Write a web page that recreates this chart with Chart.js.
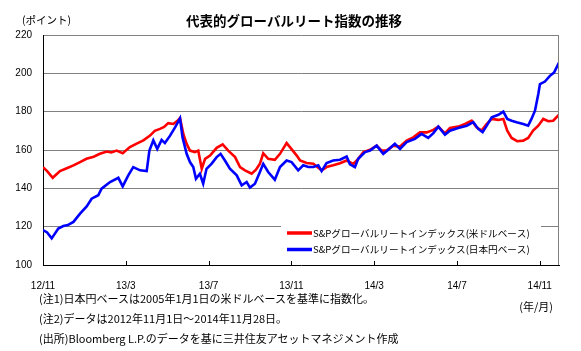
<!DOCTYPE html>
<html>
<head>
<meta charset="utf-8">
<script src="https://cdn.jsdelivr.net/npm/chart.js@4/dist/chart.umd.min.js"></script>
<style>
  html, body { margin: 0; padding: 0; background: #fff; }
  #wrap { position: relative; width: 581px; height: 351px; overflow: hidden; }
  #c { position: absolute; left: 0; top: 0; }
  .t { position: absolute; white-space: nowrap; color: #000; font-family: "Noto Sans CJK JP", sans-serif; }
</style>
</head>
<body>
<div id="wrap">
  <canvas id="c" width="581" height="351"></canvas>
  <div class="t" id="title" style="left:0;width:588px;text-align:center;top:11px;font-size:13.5px;font-weight:bold;line-height:18px;">代表的グローバルリート指数の推移</div>
  <div class="t" style="left:22px;top:13px;font-size:10.5px;line-height:14px;">(ポイント)</div>
  <div class="t" style="left:39px;top:291px;font-size:11px;line-height:14px;">(注1)日本円ベースは2005年1月1日の米ドルベースを基準に指数化。</div>
  <div class="t" style="left:39px;top:311px;font-size:11px;line-height:14px;">(注2)データは2012年11月1日～2014年11月28日。</div>
  <div class="t" style="left:39px;top:331px;font-size:11px;line-height:14px;">(出所)Bloomberg L.P.のデータを基に三井住友アセットマネジメント作成</div>
  <div class="t" style="right:28px;top:299px;font-size:11px;line-height:14px;">(年/月)</div>
</div>
<script>
// x positions are months elapsed since 2012/11/1
const tickValues = [0, 4, 8, 12, 16, 20, 24];
const tickLabels = ['12/11', '13/3', '13/7', '13/11', '14/3', '14/7', '14/11'];
const seriesNames = ['S&Pグローバルリートインデックス(米ドルベース)', 'S&Pグローバルリートインデックス(日本円ベース)'];

const usdMonths = [0,0.2,0.47,0.82,1.15,1.47,1.79,2.1,2.45,2.75,3.08,3.3,3.56,3.85,4.2,4.5,4.85,5.17,5.4,5.65,5.85,6.05,6.3,6.54,6.62,6.78,6.94,7.1,7.34,7.5,7.67,7.83,8.07,8.39,8.68,8.95,9.28,9.52,9.76,10.08,10.29,10.48,10.64,10.88,11.2,11.45,11.77,11.93,12.26,12.42,12.74,13.06,13.46,13.7,14.02,14.35,14.67,14.99,15.23,15.48,15.8,16.12,16.36,16.6,16.92,17.25,17.57,17.89,18.21,18.54,18.86,19.1,19.42,19.66,20.06,20.39,20.71,20.95,21.19,21.44,21.68,22.0,22.24,22.43,22.64,22.91,23.2,23.44,23.68,23.93,24.17,24.41,24.65,24.93];
const usdValues = [151,149,145.5,149,150.5,152,153.7,155.4,156.5,158,159.2,158.7,159.7,158.3,161.5,163.2,165,167.5,170,171,172,174,173.6,175.7,176.7,168.4,163.2,159.7,158.9,159.7,150.2,155.4,157.1,161.1,162.9,159.7,156.3,151.1,149.4,147.6,149.7,152.8,158.3,155.4,154.9,158,163.6,161.5,157.1,154.5,153.2,152.8,149.4,151.1,152,153.1,154.5,152.8,155.4,158.9,160.1,162.3,159.7,159.7,162.3,161.8,164.9,166.6,169.2,169.2,170.5,172.2,168.7,171.5,172.2,173.6,175.3,171.8,170.1,173.6,176.2,175.7,176.2,170.1,166.3,164.6,164.9,166.3,170.1,172.7,176.2,175,175.3,178.4];

const jpyMonths = [0,0.2,0.42,0.74,0.98,1.2,1.47,1.79,2.11,2.35,2.67,2.83,3.24,3.64,3.85,4.12,4.36,4.69,5.01,5.14,5.33,5.52,5.73,5.89,6.14,6.38,6.58,6.62,6.74,6.94,7.1,7.26,7.39,7.58,7.74,7.9,8.14,8.39,8.58,8.79,9.03,9.36,9.6,9.84,10.0,10.24,10.48,10.64,10.88,11.2,11.45,11.77,12.01,12.33,12.57,12.82,13.06,13.3,13.46,13.7,14.02,14.35,14.67,14.83,15.07,15.23,15.56,15.8,16.12,16.44,16.68,17.0,17.25,17.57,17.97,18.29,18.61,18.86,19.1,19.42,19.66,20.06,20.47,20.79,21.03,21.24,21.44,21.68,22.0,22.24,22.43,22.64,22.88,23.2,23.44,23.6,23.77,23.93,24.01,24.25,24.49,24.69,24.93];
const jpyValues = [118.2,117,113.9,119,120.3,120.8,122.5,126.8,130.6,134.6,136.4,139.8,143.3,145.5,141,146.8,151.1,149.4,149,159.7,165,160.6,165.3,163.6,167.5,171.8,175.7,176.5,166.7,158,153.7,151.1,145,147.6,142.4,150.2,152.8,156.3,158,154.5,150.2,146.8,141.6,143.3,140.4,142.4,148.5,152.8,148.5,144.5,151.1,154.5,153.7,149.4,152,151.1,151.1,152,149,153.2,154.5,154.9,156.6,152.5,151.1,155.4,158.9,159.7,162.3,158,160.1,163.2,160.6,164.1,165.8,168.4,166.3,168.8,172.2,168,170.1,171.5,172.7,174.5,171,169.3,172.7,177,178.4,180,176.2,175.3,174.5,173.6,172.7,176.2,180.5,189.2,194.4,195.7,198.7,200.4,205.6];

const toPoints = (xs, ys) => xs.map((x, i) => ({ x: x, y: ys[i] }));

const extras = {
  id: 'extras',
  afterDraw(chart) {
    const ctx = chart.ctx;
    const a = chart.chartArea;
    const xs = chart.scales.x;
    ctx.save();
    // right border
    ctx.strokeStyle = '#808080';
    ctx.lineWidth = 1;
    ctx.beginPath();
    ctx.moveTo(a.right - 0.5, a.top);
    ctx.lineTo(a.right - 0.5, a.bottom);
    ctx.stroke();
    // inward tick marks
    ctx.strokeStyle = '#000';
    tickValues.forEach(v => {
      const px = Math.round(xs.getPixelForValue(v)) + 0.5;
      ctx.beginPath();
      ctx.moveTo(px, a.bottom);
      ctx.lineTo(px, a.bottom - 4);
      ctx.stroke();
    });
    // legend inside the plot
    ctx.fillStyle = '#fff';
    ctx.fillRect(281, 222, 260, 37);
    ctx.font = '9.6px "Noto Sans CJK JP"';
    ctx.textBaseline = 'middle';
    ctx.textAlign = 'left';
    chart.data.datasets.forEach((ds, i) => {
      const y = 233 + i * 16.5;
      ctx.strokeStyle = ds.borderColor;
      ctx.lineWidth = 3.5;
      ctx.beginPath();
      ctx.moveTo(287, y);
      ctx.lineTo(312, y);
      ctx.stroke();
      ctx.fillStyle = '#000';
      ctx.fillText(ds.label, 313, y);
    });
    ctx.restore();
  }
};

new Chart(document.getElementById('c'), {
  type: 'line',
  data: {
    datasets: [
      { label: seriesNames[0], data: toPoints(usdMonths, usdValues), borderColor: '#ff0000', borderWidth: 2.6, pointRadius: 0, tension: 0, order: 1 },
      { label: seriesNames[1], data: toPoints(jpyMonths, jpyValues), borderColor: '#0000ff', borderWidth: 2.6, pointRadius: 0, tension: 0, order: 0 }
    ]
  },
  options: {
    responsive: false,
    animation: false,
    devicePixelRatio: 1,
    layout: { padding: { left: 0, top: 35, right: 22, bottom: 0 } },
    plugins: { legend: { display: false }, title: { display: false }, tooltip: { enabled: false } },
    scales: {
      x: {
        type: 'linear',
        min: 0,
        max: 24.93,
        afterBuildTicks(s) { s.ticks = tickValues.map(v => ({ value: v })); },
        afterFit(s) { s.height = 86; },
        ticks: {
          callback: (v) => tickLabels[tickValues.indexOf(v)],
          color: '#000',
          font: { family: 'Liberation Sans', size: 10 },
          padding: 7,
          maxRotation: 0,
          autoSkip: false
        },
        grid: { display: false },
        border: { display: true, color: '#000', width: 1 }
      },
      y: {
        min: 100,
        max: 220,
        afterFit(s) { s.width = 43; },
        ticks: {
          stepSize: 20,
          color: '#000',
          font: { family: 'Liberation Sans', size: 10 },
          padding: 11
        },
        grid: {
          drawTicks: false,
          color: (c) => (c.tick && c.tick.value === 100) ? 'rgba(0,0,0,0)' : '#808080',
          lineWidth: 1
        },
        border: { display: true, color: '#000', width: 1 }
      }
    }
  },
  plugins: [extras]
});
</script>
</body>
</html>
